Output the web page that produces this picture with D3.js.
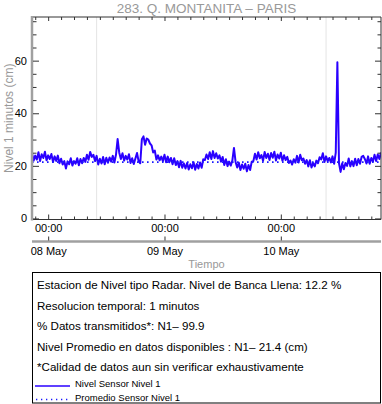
<!DOCTYPE html>
<html>
<head>
<meta charset="utf-8">
<script src="https://cdn.jsdelivr.net/npm/d3@7/dist/d3.min.js"></script>
<style>
  html, body { margin: 0; padding: 0; background: #fff; }
  svg { display: block; font-family: "Liberation Sans", Arial, Helvetica, sans-serif; }
</style>
</head>
<body>
<svg id="chart" width="382" height="404"></svg>
<script>
// ---------------- DATA ----------------
const chartTitle = "283. Q. MONTANITA \u2013 PARIS";
const yLabel = "Nivel 1 minutos (cm)";
const xLabel = "Tiempo";
const seriesStart = new Date(2024, 4, 7, 20, 40);   // first sample
const sampleMinutes = 20;                            // spacing of the values below
// Nivel Sensor Nivel 1 (cm) (noisy band included)
const nivelSensor1 = [
  24.8,22.0,23.9,22.4,25.2,21.8,24.4,23.0, 25.4,22.1,24.0,22.6,24.5,21.5,23.6,21.9,
  23.9,21.0,22.7,20.5,21.8,19.0,21.7,20.6, 22.9,20.1,21.8,20.8,22.9,20.2,22.6,21.0,
  23.0,21.5,24.2,22.3,25.3,23.4,24.2,21.8, 23.8,20.5,22.7,20.9,23.4,20.6,23.1,21.2,
  23.2,21.6,23.8,21.3,24.3,30.2,25.0,22.6, 24.8,22.0,23.8,22.4,24.4,21.1,22.9,20.7,
  22.8,24.9,21.7,21.0,30.1,31.2,28.0,30.4, 30.0,28.5,27.8,25.1,25.8,22.4,24.0,22.1,
  23.5,21.8,24.2,21.4,23.5,21.4,23.0,20.6, 22.9,20.3,21.8,19.5,21.9,19.3,20.9,19.0,
  21.1,18.6,20.6,19.1,21.4,18.5,20.7,19.0, 21.3,19.3,22.5,22.2,24.3,22.6,25.2,22.6,
  25.6,23.0,24.8,22.8,24.0,21.6,23.4,20.3, 22.5,19.9,21.6,20.1,22.0,26.8,21.5,19.4,
  21.2,18.4,20.5,18.9,20.8,17.9,20.3,18.4, 21.6,21.8,24.6,22.4,25.2,22.9,24.1,21.9,
  25.3,23.0,24.6,22.2,24.9,23.1,25.4,22.0, 24.3,22.8,25.0,21.9,24.0,22.2,23.4,21.1,
  22.0,20.5,22.5,21.2,23.8,21.3,24.2,22.1, 22.8,20.8,22.2,19.8,22.1,19.4,21.0,19.8,
  22.0,21.0,23.3,22.4,24.8,21.5,23.6,21.8, 23.0,21.3,23.6,20.8,25.0,59.4,21.0,17.7,
  21.0,18.7,21.1,20.0,22.8,19.8,21.8,19.9, 22.7,20.2,22.6,20.8,23.4,23.8,22.6,20.9,
  23.6,20.8,23.0,21.6,24.2,21.8,24.3,22.6, 25.1
];
const promedioSensor1 = 21.4;
const refLineTimes = [new Date(2024, 4, 8, 10, 0), new Date(2024, 4, 10, 9, 20)];
const xDomain = [new Date(2024, 4, 7, 20, 40), new Date(2024, 4, 10, 20, 40)];
const yDomain = [-0.4, 76.6];
const yMajorTicks = [0, 20, 40, 60];
const yMinorTicks = [5, 10, 15, 25, 30, 35, 45, 50, 55, 65, 70, 75];
const minorTickStepMinutes = 160;
const infoLines = [
  "Estacion de Nivel tipo Radar. Nivel de Banca Llena: 12.2 %",
  "Resolucion temporal: 1 minutos",
  "% Datos transmitidos*: N1\u2013 99.9",
  "Nivel Promedio en datos disponibles : N1\u2013 21.4 (cm)",
  "*Calidad de datos aun sin verificar exhaustivamente"
];
const legendLabels = ["Nivel Sensor Nivel 1", "Promedio Sensor Nivel 1"];

// ---------------- LAYOUT ----------------
const svg = d3.select("#chart");
const L = 32, R = 381, T = 17, B = 219.5;
const blue = "#2a00ff";
const gray = "#a0a0a0";
const font = "\"Liberation Sans\", Arial, Helvetica, sans-serif";

const x = d3.scaleTime().domain(xDomain).range([L, R]);
const y = d3.scaleLinear().domain(yDomain).range([B, T]);

const points = nivelSensor1.map((v, i) => ({
  t: new Date(seriesStart.getTime() + i * sampleMinutes * 60000), v
}));

// Title
svg.append("text").attr("x", (L + R) / 2).attr("y", 13)
  .attr("text-anchor", "middle").attr("fill", "#999").attr("font-size", 13.5)
  .text(chartTitle);

// Reference vertical lines
svg.selectAll(".vref").data(refLineTimes).enter().append("line")
  .attr("x1", d => x(d)).attr("x2", d => x(d)).attr("y1", T).attr("y2", B)
  .attr("stroke", "#e4e4e4").attr("stroke-width", 1);

// Data line
svg.append("clipPath").attr("id", "clip").append("rect")
  .attr("x", L).attr("y", T).attr("width", R - L).attr("height", B - T);
svg.append("path").datum(points)
  .attr("clip-path", "url(#clip)")
  .attr("fill", "none").attr("stroke", blue).attr("stroke-width", 2.0)
  .attr("stroke-linejoin", "round")
  .attr("d", d3.line().x(d => x(d.t)).y(d => y(d.v)));

// Mean dotted line
svg.append("line").attr("x1", L).attr("x2", R)
  .attr("y1", y(promedioSensor1)).attr("y2", y(promedioSensor1))
  .attr("stroke", "#1a1aff").attr("stroke-width", 1.6).attr("stroke-dasharray", "1.6,3.4");

// Frame: top, right, bottom black; left gray
svg.append("line").attr("x1", L).attr("x2", R).attr("y1", T).attr("y2", T).attr("stroke", "#333").attr("stroke-width", 1);
svg.append("line").attr("x1", R).attr("x2", R).attr("y1", T).attr("y2", B).attr("stroke", "#333").attr("stroke-width", 1);
svg.append("line").attr("x1", L).attr("x2", R).attr("y1", B).attr("y2", B).attr("stroke", "#333").attr("stroke-width", 1);
svg.append("line").attr("x1", L).attr("x2", L).attr("y1", T - 1).attr("y2", B + 1).attr("stroke", gray).attr("stroke-width", 2.5);

// Y axes, ticks inward
function noDomain(g) { g.select(".domain").remove(); return g; }
noDomain(svg.append("g").attr("transform", `translate(${L + 1},0)`)
  .call(d3.axisRight(y).tickValues(yMajorTicks).tickSize(6).tickFormat("")));
noDomain(svg.append("g").attr("transform", `translate(${L + 1},0)`)
  .call(d3.axisRight(y).tickValues(yMinorTicks).tickSize(3.5).tickFormat("")));
noDomain(svg.append("g").attr("transform", `translate(${R},0)`)
  .call(d3.axisLeft(y).tickValues(yMajorTicks).tickSize(6).tickFormat("")));
noDomain(svg.append("g").attr("transform", `translate(${R},0)`)
  .call(d3.axisLeft(y).tickValues(yMinorTicks).tickSize(3.5).tickFormat("")));
const gyLab = noDomain(svg.append("g").attr("transform", `translate(${L - 1},0)`)
  .call(d3.axisLeft(y).tickValues(yMajorTicks).tickSize(0).tickPadding(4)));
gyLab.selectAll("text").attr("font-size", 11).attr("font-family", font).attr("fill", "#000");

// Y label
svg.append("text").attr("transform", `translate(13,${(T + B) / 2}) rotate(-90)`)
  .attr("text-anchor", "middle").attr("fill", "#999").attr("font-size", 12)
  .text(yLabel);

// X ticks: midnights (major) and every 2h40 (minor)
const majorX = d3.timeDay.range(xDomain[0], xDomain[1]);
const minorSet = new Set();
majorX.forEach(day => {
  for (let k = -1; k <= 8; k++) {
    if (k === 0) continue;
    const t = new Date(day.getTime() + k * minorTickStepMinutes * 60000);
    if (t >= xDomain[0] && t <= xDomain[1]) minorSet.add(+t);
  }
});
const minorX = Array.from(minorSet).map(d => new Date(d));

noDomain(svg.append("g").attr("transform", `translate(0,${B})`)
  .call(d3.axisTop(x).tickValues(majorX).tickSize(5).tickFormat("")));
noDomain(svg.append("g").attr("transform", `translate(0,${B})`)
  .call(d3.axisTop(x).tickValues(minorX).tickSize(3).tickFormat("")));
noDomain(svg.append("g").attr("transform", `translate(0,${T})`)
  .call(d3.axisBottom(x).tickValues(majorX).tickSize(4).tickFormat("")));
noDomain(svg.append("g").attr("transform", `translate(0,${T})`)
  .call(d3.axisBottom(x).tickValues(minorX).tickSize(3).tickFormat("")));

const gxLab = noDomain(svg.append("g").attr("transform", `translate(0,${B})`)
  .call(d3.axisBottom(x).tickValues(majorX).tickSize(0).tickPadding(5).tickFormat(d3.timeFormat("%H:%M"))));
gxLab.selectAll("text").attr("font-size", 11).attr("font-family", font).attr("fill", "#000");

// Second (date) axis
const Y2 = 241.5;
svg.append("line").attr("x1", L).attr("x2", R).attr("y1", Y2).attr("y2", Y2)
  .attr("stroke", gray).attr("stroke-width", 2.5);
noDomain(svg.append("g").attr("transform", `translate(0,${Y2 - 1})`)
  .call(d3.axisTop(x).tickValues(majorX).tickSize(4).tickFormat("")));
const gx2Lab = noDomain(svg.append("g").attr("transform", `translate(0,${Y2})`)
  .call(d3.axisBottom(x).tickValues(majorX).tickSize(0).tickPadding(6).tickFormat(d3.timeFormat("%d %b"))));
gx2Lab.selectAll("text").attr("font-size", 11).attr("font-family", font).attr("fill", "#000");
svg.selectAll(".tick line").attr("stroke", "#333");

// X label
svg.append("text").attr("x", (L + R) / 2).attr("y", 268)
  .attr("text-anchor", "middle").attr("fill", "#999").attr("font-size", 11)
  .text(xLabel);

// Info / legend box
svg.append("rect").attr("x", 32.5).attr("y", 272.5).attr("width", 348).attr("height", 130.5)
  .attr("fill", "none").attr("stroke", "#000").attr("stroke-width", 1);
const lineY = [289, 309.5, 330, 350.5, 371];
svg.selectAll(".info").data(infoLines).enter().append("text")
  .attr("x", 37).attr("y", (d, i) => lineY[i])
  .attr("font-size", 11.6).attr("fill", "#000").text(d => d);
svg.append("line").attr("x1", 35).attr("x2", 70).attr("y1", 386).attr("y2", 386)
  .attr("stroke", blue).attr("stroke-width", 1.5);
svg.append("text").attr("x", 75).attr("y", 387).attr("font-size", 9.5).text(legendLabels[0]);
svg.append("line").attr("x1", 36).attr("x2", 70).attr("y1", 399.5).attr("y2", 399.5)
  .attr("stroke", "#1a1aff").attr("stroke-width", 1.5).attr("stroke-dasharray", "1.3,3.7");
svg.append("text").attr("x", 75).attr("y", 400.5).attr("font-size", 9.5).text(legendLabels[1]);
</script>
</body>
</html>
